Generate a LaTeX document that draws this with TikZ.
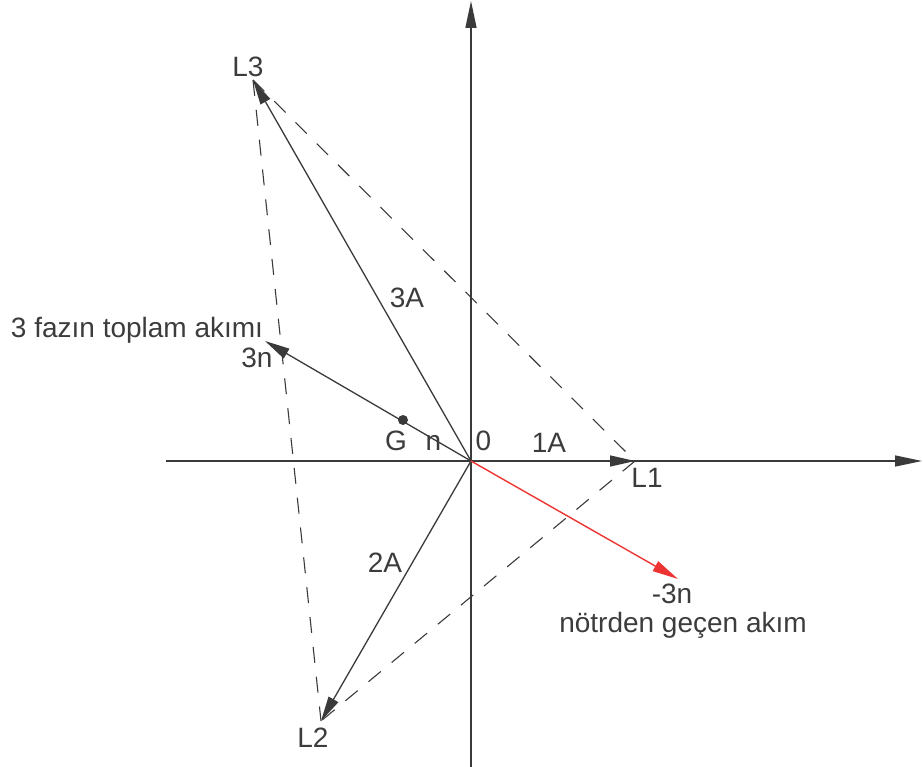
\documentclass[tikz,border=0pt]{standalone}
\usepackage{fontspec}
\setmainfont{Liberation Sans}
\usetikzlibrary{arrows.meta}
\definecolor{ink}{HTML}{3A3A3A}
\definecolor{txt}{HTML}{3C3C3C}
\definecolor{redv}{HTML}{EE3333}
\begin{document}
\begin{tikzpicture}[x=1pt,y=-1pt,
  axis/.style={draw=ink,line width=1.4pt,-{Triangle[length=27pt,width=11pt]}},
  vec/.style={draw=ink,line width=1.3pt,-{Triangle[length=25pt,width=11pt]}},
  redvec/.style={draw=redv,line width=1.4pt,-{Triangle[length=26pt,width=11pt]}},
  aux/.style={draw=ink,line width=1.1pt,dash pattern=on 16pt off 14pt},
  lbl/.style={text=txt,font=\fontsize{28}{31}\selectfont,inner sep=0pt,anchor=base}]
\useasboundingbox (0,0) rectangle (923,767);
\coordinate (O) at (471,461);
\coordinate (L1) at (635,461);
\coordinate (L2) at (321,721);
\coordinate (L3) at (253,80);
\coordinate (N3) at (265,341);
\coordinate (R) at (678,579);
\coordinate (XL) at (166,461);
\coordinate (XR) at (922,461);
\coordinate (YT) at (471,1);
\coordinate (YB) at (471,767);
% axes
\draw[axis] (XL) -- (XR);
\draw[axis] (YB) -- (YT);
% dashed triangle
\draw[aux] (L3) -- (L1);
\draw[aux] (L1) -- (L2);
\draw[aux] (L3) -- (L2);
% vectors
\draw[vec] (O) -- (L1);
\draw[vec] (O) -- (L2);
\draw[vec] (O) -- (L3);
\draw[vec] (O) -- (N3);
\draw[redvec] (O) -- (R);
% G point
\fill[ink] (403,420) circle (5pt) coordinate (G);
% labels
\node[lbl] (tL3) at (248,77) {L3};
\node[lbl] (tL1) at (647,487) {L1};
\node[lbl] (tL2) at (313,747) {L2};
\node[lbl] (t3n) at (257,367) {3n};
\node[lbl] (tsum) at (137,337) {3 fazın toplam akımı};
\node[lbl] (tG) at (396,450) {G};
\node[lbl] (tn) at (433.5,450) {n};
\node[lbl] (t0) at (483.5,450) {0};
\node[lbl] (t1A) at (549,452) {1A};
\node[lbl] (t3A) at (407,307) {3A};
\node[lbl] (t2A) at (385,572) {2A};
\node[lbl] (tm3n) at (672,603) {-3n};
\node[lbl] (tnot) at (683,632) {nötrden geçen akım};
\end{tikzpicture}
\end{document}
